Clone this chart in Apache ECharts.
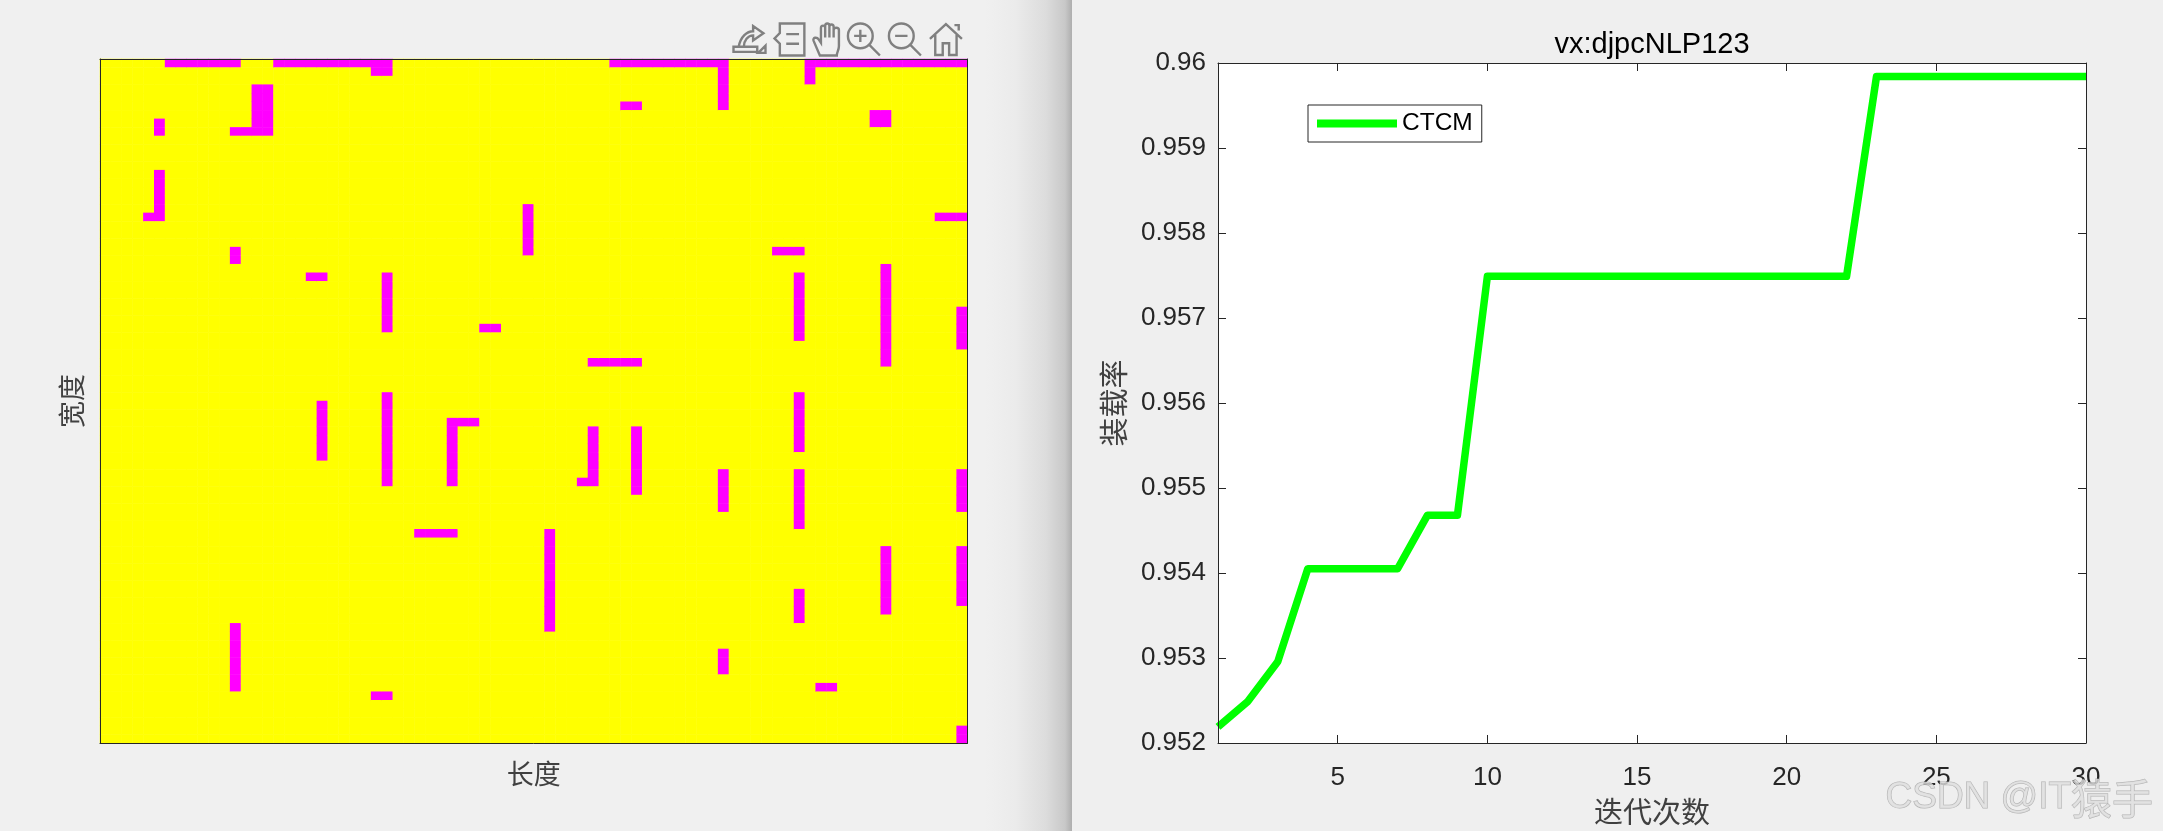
<!DOCTYPE html>
<html>
<head>
<meta charset="utf-8">
<title>装载率</title>
<script src="https://cdn.jsdelivr.net/npm/echarts@6/dist/echarts.min.js"></script>
<style>
html, body {
  margin: 0;
  width: 2163px;
  height: 831px;
  overflow: hidden;
  background: #f0f0f0;
}
/* 两个窗口之间的阴影 */
.gutter {
  position: absolute;
  left: 985px;
  top: 0;
  width: 87px;
  height: 831px;
  background: linear-gradient(to right, #f0f0f0 0%, #ebebeb 35%, #dcdcdc 70%, #c8c8c8 92%, #aeaeae 100%);
}
.right-window {
  position: absolute;
  left: 1072px;
  top: 0;
  width: 1091px;
  height: 831px;
  background: #efefef;
  border-bottom-left-radius: 6px;
}
#main {
  position: absolute;
  left: 0;
  top: 0;
  width: 2163px;
  height: 831px;
}
</style>
</head>
<body>
<div class="gutter"></div>
<div class="right-window"></div>
<div id="main"></div>
<script>
// 排样结果：80 x 80 网格
const gridCols = 80
const gridRows = 80
// 洋红色区域 [起始列, 结束列, 起始行, 结束行]，行号从上往下
const magentaRuns = [
  [6, 12, 0, 0], [16, 26, 0, 0], [25, 26, 1, 1],
  [14, 15, 3, 8], [12, 13, 8, 8], [5, 5, 7, 8],
  [5, 5, 13, 18], [4, 4, 18, 18], [12, 12, 22, 23],
  [19, 20, 25, 25], [26, 26, 25, 31], [35, 36, 31, 31],
  [39, 39, 17, 22], [26, 26, 39, 49], [20, 20, 40, 46],
  [32, 32, 42, 49], [33, 34, 42, 42], [29, 32, 55, 55],
  [41, 41, 55, 66], [12, 12, 66, 73], [25, 26, 74, 74],
  [47, 57, 0, 0], [57, 57, 1, 5], [65, 79, 0, 0],
  [65, 65, 1, 2], [48, 49, 5, 5], [71, 72, 6, 7],
  [77, 79, 18, 18], [62, 64, 22, 22], [64, 64, 25, 32],
  [72, 72, 24, 35], [79, 79, 29, 33], [45, 49, 35, 35],
  [45, 45, 43, 49], [44, 44, 49, 49], [49, 49, 43, 50],
  [57, 57, 48, 52], [64, 64, 39, 45], [64, 64, 48, 54],
  [64, 64, 62, 65], [72, 72, 57, 64], [79, 79, 48, 52],
  [79, 79, 57, 63], [79, 79, 78, 79], [57, 57, 69, 71],
  [66, 67, 73, 73]
]

// 迭代曲线
const iterations = [1, 2, 3, 4, 5, 6, 7, 8, 9, 10, 11, 12, 13, 14, 15, 16, 17, 18, 19, 20, 21, 22, 23, 24, 25, 26, 27, 28, 29, 30]
const fillRates = [
  0.95219, 0.95249, 0.95296, 0.95405, 0.95405, 0.95405, 0.95405, 0.95468, 0.95468, 0.95749,
  0.95749, 0.95749, 0.95749, 0.95749, 0.95749, 0.95749, 0.95749, 0.95749, 0.95749, 0.95749,
  0.95749, 0.95749, 0.95984, 0.95984, 0.95984, 0.95984, 0.95984, 0.95984, 0.95984, 0.95984
]
const xTickValues = [5, 10, 15, 20, 25, 30]

const colNames = []
for (let i = 0; i < gridCols; i++) colNames.push(i)
const rowNames = []
for (let i = 0; i < gridRows; i++) rowNames.push(i)

const heatData = []
for (let c = 0; c < gridCols; c++) {
  for (let r = 0; r < gridRows; r++) {
    const hit = magentaRuns.some(m => c >= m[0] && c <= m[1] && r >= m[2] && r <= m[3])
    heatData.push([c, r, hit ? 1 : 0])
  }
}

const inkColor = '#262626'
const cjkFont = '"Noto Sans CJK SC", sans-serif'
const latinFont = '"Liberation Sans", Arial, sans-serif'

// MATLAB 坐标区工具栏
const toolIcons = {
  myExport: 'path://M1 26H24V31H1Z M6 26C8 16 14 11 20 11V6L30 13L20 20V15C15 15 11 20 11 26 M25 32L32 25V32Z',
  myTips: 'path://M8 1H31V31H8V20L3 15L8 10Z M14 11H26 M14 20H26',
  myPan: 'path://M8 31L2 17C1 14 5 13 7 16L9 19V5C9 2 13 2 13 5V14V3C13 0 17 0 17 3V14V4C17 1 21 1 21 4V14V7C21 4 26 4 26 7V22C26 26 24 28 24 31Z',
  myZoomIn: 'path://M13 1A12 12 0 1 1 13 25A12 12 0 1 1 13 1Z M7 13H19 M13 7V19 M22 22L32 32',
  myZoomOut: 'path://M13 1A12 12 0 1 1 13 25A12 12 0 1 1 13 1Z M7 13H19 M22 22L32 32',
  myHome: 'path://M1 16L16 2L31 16 M6 12V31H13V20H19V31H26V12 M24 3H28V8'
}
const toolFeatures = {}
Object.keys(toolIcons).forEach(k => {
  toolFeatures[k] = { show: true, title: k, icon: toolIcons[k], onclick: () => {} }
})

const frameAxis = {
  show: true,
  z: 5,
  axisLine: { show: true, onZero: false, lineStyle: { color: inkColor, width: 1 } },
  axisTick: { show: false },
  axisLabel: { show: false },
  splitLine: { show: false }
}

const option = {
  animation: false,
  backgroundColor: 'transparent',
  title: {
    text: 'vx:djpcNLP123',
    left: 1647,
    top: 25,
    textAlign: 'center',
    textStyle: { color: '#000', fontFamily: latinFont, fontSize: 29, fontWeight: 'normal' }
  },
  toolbox: {
    left: 731,
    top: 21,
    padding: 0,
    itemSize: 32,
    itemGap: 4,
    showTitle: false,
    iconStyle: { color: 'none', borderColor: '#808080', borderWidth: 2.4 },
    feature: toolFeatures
  },
  legend: {
    left: 1308,
    top: 105,
    data: [{ name: 'CTCM', icon: 'rect' }],
    itemWidth: 80,
    itemHeight: 8,
    itemGap: 0,
    padding: [6, 9, 6, 9],
    borderColor: inkColor,
    borderWidth: 1,
    backgroundColor: '#fff',
    textStyle: { color: '#000', fontFamily: latinFont, fontSize: 24.5 }
  },
  visualMap: {
    show: false,
    type: 'piecewise',
    seriesIndex: 0,
    dimension: 2,
    pieces: [
      { value: 0, color: '#ffff00' },
      { value: 1, color: '#ff00ff' }
    ]
  },
  grid: [
    { left: 100, top: 59, width: 867.5, height: 684 },
    { left: 1218, top: 63, width: 868, height: 683, backgroundColor: '#fff', show: true, borderWidth: 0 }
  ],
  xAxis: [
    Object.assign({}, frameAxis, {
      type: 'category',
      gridIndex: 0,
      position: 'bottom',
      data: colNames,
      name: '长度',
      nameLocation: 'middle',
      nameGap: 17,
      nameTextStyle: { color: '#404040', fontFamily: cjkFont, fontSize: 27 }
    }),
    Object.assign({}, frameAxis, { type: 'category', gridIndex: 0, position: 'top', data: colNames }),
    {
      type: 'value',
      gridIndex: 1,
      position: 'bottom',
      min: 1,
      max: 30,
      z: 5,
      name: '迭代次数',
      nameLocation: 'middle',
      nameGap: 54,
      nameTextStyle: { color: '#404040', fontFamily: cjkFont, fontSize: 29 },
      axisLine: { show: true, onZero: false, lineStyle: { color: inkColor, width: 1 } },
      axisTick: { show: true, inside: true, length: 8, customValues: xTickValues, lineStyle: { color: inkColor } },
      axisLabel: { customValues: xTickValues, color: inkColor, fontFamily: latinFont, fontSize: 26, margin: 22 },
      splitLine: { show: false }
    },
    {
      type: 'value',
      gridIndex: 1,
      position: 'top',
      min: 1,
      max: 30,
      z: 5,
      axisLine: { show: true, onZero: false, lineStyle: { color: inkColor, width: 1 } },
      axisTick: { show: true, inside: true, length: 8, customValues: xTickValues, lineStyle: { color: inkColor } },
      axisLabel: { show: false },
      splitLine: { show: false }
    }
  ],
  yAxis: [
    Object.assign({}, frameAxis, {
      type: 'category',
      gridIndex: 0,
      position: 'left',
      inverse: true,
      data: rowNames,
      name: '宽度',
      nameLocation: 'middle',
      nameGap: 15,
      nameTextStyle: { color: '#404040', fontFamily: cjkFont, fontSize: 27 }
    }),
    Object.assign({}, frameAxis, { type: 'category', gridIndex: 0, position: 'right', inverse: true, data: rowNames }),
    {
      type: 'value',
      gridIndex: 1,
      position: 'left',
      min: 0.952,
      max: 0.96,
      interval: 0.001,
      z: 5,
      name: '装载率',
      nameLocation: 'middle',
      nameGap: 90,
      nameTextStyle: { color: '#404040', fontFamily: cjkFont, fontSize: 29 },
      axisLine: { show: true, onZero: false, lineStyle: { color: inkColor, width: 1 } },
      axisTick: { show: true, inside: true, length: 8, lineStyle: { color: inkColor } },
      axisLabel: { color: inkColor, fontFamily: latinFont, fontSize: 26, margin: 12, padding: [5, 0, 0, 0] },
      splitLine: { show: false }
    },
    {
      type: 'value',
      gridIndex: 1,
      position: 'right',
      min: 0.952,
      max: 0.96,
      interval: 0.001,
      z: 5,
      axisLine: { show: true, onZero: false, lineStyle: { color: inkColor, width: 1 } },
      axisTick: { show: true, inside: true, length: 8, lineStyle: { color: inkColor } },
      axisLabel: { show: false },
      splitLine: { show: false }
    }
  ],
  series: [
    {
      type: 'heatmap',
      xAxisIndex: 0,
      yAxisIndex: 0,
      data: heatData,
      itemStyle: { borderWidth: 0 },
      emphasis: { disabled: true }
    },
    {
      name: 'CTCM',
      type: 'line',
      xAxisIndex: 2,
      yAxisIndex: 2,
      data: iterations.map((it, i) => [it, fillRates[i]]),
      symbol: 'none',
      lineStyle: { color: '#00ff00', width: 7.5, join: 'round' },
      itemStyle: { color: '#00ff00' }
    }
  ],
  graphic: [
    {
      type: 'text',
      left: 1885,
      top: 777,
      z: 100,
      silent: true,
      style: {
        text: '{a|CSDN @IT}{b|猿手}',
        rich: {
          a: { fontFamily: latinFont, fontSize: 37, fill: 'rgba(222,222,222,0.8)', stroke: 'rgba(150,150,150,0.7)', lineWidth: 1 },
          b: { fontFamily: cjkFont, fontSize: 41, fill: 'rgba(222,222,222,0.8)', stroke: 'rgba(150,150,150,0.7)', lineWidth: 1 }
        }
      }
    }
  ]
}

const chart = echarts.init(document.getElementById('main'))
chart.setOption(option)
</script>
</body>
</html>
